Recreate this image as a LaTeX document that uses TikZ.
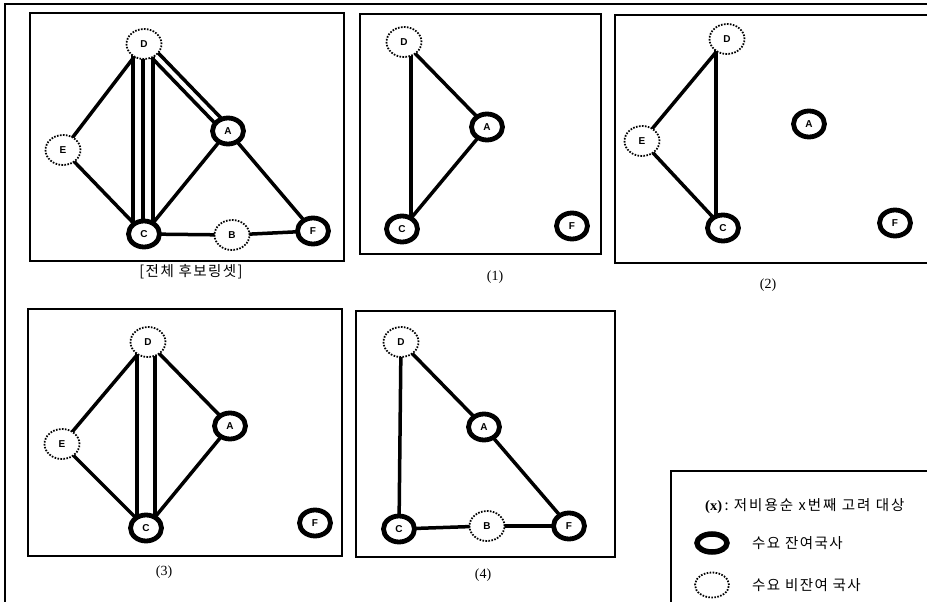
\documentclass[tikz,border=0pt]{standalone}
\usepackage{fontspec}
\setmainfont{Liberation Serif}
\setsansfont{Liberation Sans}
\newfontfamily\krfont[LetterSpace=10]{Noto Sans CJK KR}
\newfontfamily\krwide[LetterSpace=14]{Noto Sans CJK KR}
\usetikzlibrary{shapes.geometric,calc}
\pgfdeclarelayer{bg}
\pgfsetlayers{bg,main}
\tikzset{
  remnode/.style={ellipse, draw, line width=4.8pt, fill=white, minimum width=31pt, minimum height=26pt, inner sep=0pt,
    font=\sffamily\bfseries\fontsize{10}{10}\selectfont},
  nonremnode/.style={ellipse, draw, line width=1.8pt, dash pattern=on 1.6pt off 1.4pt, fill=white, minimum width=35pt, minimum height=30pt, inner sep=0pt,
    font=\sffamily\bfseries\fontsize{10}{10}\selectfont},
  link/.style={line width=3.5pt},
  panelbox/.style={line width=1.2pt},
  frameline/.style={line width=1.4pt},
  captxt/.style={font=\fontsize{14}{14}\selectfont, inner sep=0pt},
  krtxt/.style={font=\krfont\fontsize{14.5}{14.5}\selectfont, inner sep=0pt},
}
\begin{document}
\begin{tikzpicture}[x=1pt,y=-1pt]
\useasboundingbox (0,0) rectangle (927,602);
\clip (0,0) rectangle (927,602);
% outer frame
\draw[frameline] (5,605) -- (5,4) -- (930,4);
% panel boxes
\draw[panelbox] (30,13) rectangle (344,261);
\draw[panelbox] (360,14) rectangle (601,254);
\draw[panelbox] (615,15) rectangle (935,263);
\draw[panelbox] (28,309) rectangle (342,556);
\draw[panelbox] (356,311) rectangle (615,557);
\draw[panelbox] (935,471) -- (671,471) -- (671,610);

% ---------- panel 0 ----------
\node[nonremnode] (D0) at (144,44) {D};
\node[nonremnode] (E0) at (63,150) {E};
\node[remnode] (A0) at (228,131) {A};
\node[remnode] (C0) at (144,234) {C};
\node[nonremnode] (B0) at (232,235) {B};
\node[remnode] (F0) at (313,231) {F};
\begin{pgfonlayer}{bg}
\draw[link] (D0.center) -- (E0.center);
\draw[link] (E0.center) -- (C0.center);
\draw[link] ([xshift=-11pt]D0.center) -- ([xshift=-11pt]C0.center);
\draw[link] ([xshift=-1pt]D0.center) -- ([xshift=-1pt]C0.center);
\draw[link] ([xshift=9pt]D0.center) -- ([xshift=9pt]C0.center);
\draw[link] ($(D0.center)!4pt!90:(A0.center)$) -- ($(A0.center)!4pt!-90:(D0.center)$);
\draw[link] ($(D0.center)!4pt!-90:(A0.center)$) -- ($(A0.center)!4pt!90:(D0.center)$);
\draw[link] (A0.center) -- (C0.center);
\draw[link] (A0.center) -- (F0.center);
\draw[link] (C0.center) -- (B0.center);
\draw[link] (B0.center) -- (F0.center);
\end{pgfonlayer}
\node[krtxt] (cap0) at (191,272) {[전체 후보링셋]};

% ---------- panel 1 ----------
\node[nonremnode] (D1) at (404,42) {D};
\node[remnode] (A1) at (487,127) {A};
\node[remnode] (C1) at (402,229) {C};
\node[remnode] (F1) at (572,226) {F};
\begin{pgfonlayer}{bg}
\draw[link] ([xshift=7pt]D1.center) -- ([xshift=9pt]C1.center);
\draw[link] (D1.center) -- (A1.center);
\draw[link] (A1.center) -- (C1.center);
\end{pgfonlayer}
\node[captxt] (cap1) at (495,277) {(1)};

% ---------- panel 2 ----------
\node[nonremnode] (D2) at (727,39) {D};
\node[nonremnode] (E2) at (642,141) {E};
\node[remnode] (A2) at (809,124) {A};
\node[remnode] (C2) at (723,228) {C};
\node[remnode] (F2) at (895,223) {F};
\begin{pgfonlayer}{bg}
\draw[link] (D2.center) -- (E2.center);
\draw[link] (E2.center) -- (C2.center);
\draw[link] ([xshift=-11pt]D2.center) -- ([xshift=-7pt]C2.center);
\end{pgfonlayer}
\node[captxt] (cap2) at (768,285) {(2)};

% ---------- panel 3 ----------
\node[nonremnode] (D3) at (148,342) {D};
\node[nonremnode] (E3) at (62,444) {E};
\node[remnode] (A3) at (230,426) {A};
\node[remnode] (C3) at (146,528) {C};
\node[remnode] (F3) at (315,523) {F};
\begin{pgfonlayer}{bg}
\draw[link] (D3.center) -- (E3.center);
\draw[link] (E3.center) -- (C3.center);
\draw[link] ([xshift=-11pt]D3.center) -- ([xshift=-9pt]C3.center);
\draw[link] ([xshift=7pt]D3.center) -- ([xshift=9pt]C3.center);
\draw[link] (D3.center) -- (A3.center);
\draw[link] (A3.center) -- (C3.center);
\end{pgfonlayer}
\node[captxt] (cap3) at (164,572) {(3)};

% ---------- panel 4 ----------
\node[nonremnode] (D4) at (401,342) {D};
\node[remnode] (A4) at (484,427) {A};
\node[remnode] (C4) at (399,529) {C};
\node[nonremnode] (B4) at (487,526) {B};
\node[remnode] (F4) at (569,526) {F};
\begin{pgfonlayer}{bg}
\draw[link] (D4.center) -- (C4.center);
\draw[link] (D4.center) -- (A4.center);
\draw[link] (A4.center) -- (F4.center);
\draw[link] (C4.center) -- (B4.center);
\draw[link] (B4.center) -- (F4.center);
\end{pgfonlayer}
\node[captxt] (cap4) at (483,575) {(4)};

% ---------- legend ----------
\node[font=\krwide\fontsize{14.5}{14.5}\selectfont, inner sep=0pt, anchor=west] (legtitle) at (705,506) {\textbf{\rmfamily (x)}\,:\ 저비용순 x번째 고려 대상};
\node[ellipse, draw, line width=5.5pt, minimum width=30pt, minimum height=18pt, inner sep=0pt] (legrem) at (712,543) {};
\node[ellipse, draw, line width=1.8pt, dash pattern=on 1.6pt off 1.4pt, minimum width=34pt, minimum height=25pt, inner sep=0pt] (legnon) at (712,585) {};
\node[krtxt, anchor=west] (legremtxt) at (752,543) {수요 잔여국사};
\node[krtxt, anchor=west] (legnontxt) at (752,585) {수요 비잔여 국사};
\end{tikzpicture}
\end{document}
